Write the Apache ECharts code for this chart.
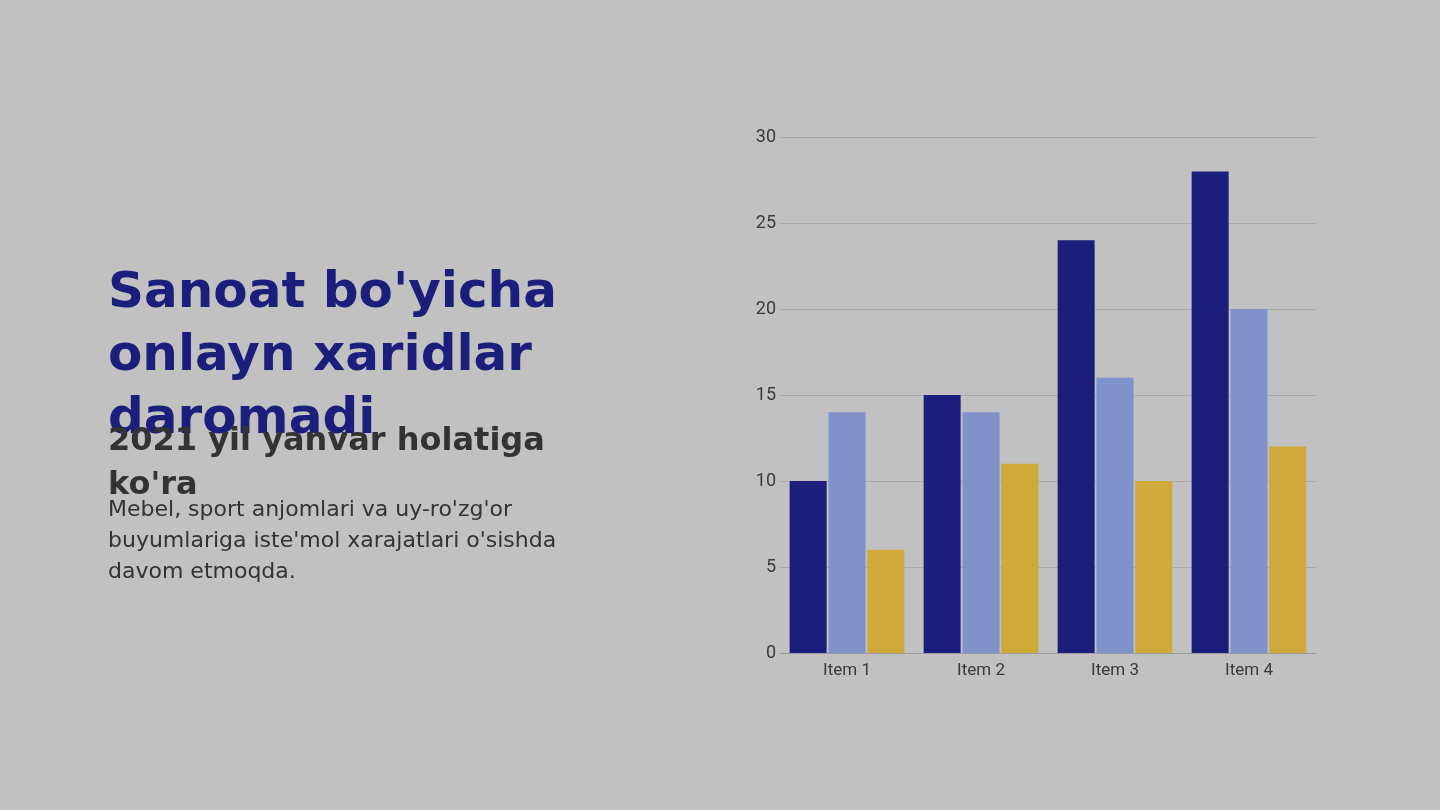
<!DOCTYPE html>
<html>
<head>
<meta charset="utf-8">
<script src="https://cdn.jsdelivr.net/npm/echarts@6/dist/echarts.min.js"></script>
<style>
html,body{margin:0;padding:0;background:#c1c1c1;}
#main{width:1440px;height:810px;}
</style>
</head>
<body>
<div id="main"></div>
<script>
const categories = ['Item 1', 'Item 2', 'Item 3', 'Item 4'];
const series1 = [10, 15, 24, 28];
const series2 = [14, 14, 16, 20];
const series3 = [6, 11, 10, 12];
const seriesNames = ['Series 1', 'Series 2', 'Series 3'];
const titleText = "Sanoat bo'yicha\nonlayn xaridlar\ndaromadi";
const subtitleText = "2021 yil yanvar holatiga\nko'ra";
const bodyText = "Mebel, sport anjomlari va uy-ro'zg'or\nbuyumlariga iste'mol xarajatlari o'sishda\ndavom etmoqda.";

const chart = echarts.init(document.getElementById('main'), null, {renderer: 'canvas'});
const colors = ['#1b1e7a', '#7f92c9', '#cfaa3a'];
function mk(name, data, color) {
  return {
    name: name, type: 'bar', data: data, barWidth: 37, barGap: '5%',
    itemStyle: {color: color}
  };
}
const labelFont = 'Roboto';
chart.setOption({
  backgroundColor: '#c1c1c1',
  animation: false,
  grid: {left: 780, right: 124, top: 137, bottom: 157, containLabel: false},
  xAxis: {
    type: 'category', data: categories,
    axisLine: {show: true, lineStyle: {color: '#9a9a9a', width: 1}},
    axisTick: {show: false},
    axisLabel: {color: '#3a3a3a', fontSize: 17, fontFamily: labelFont, margin: 9}
  },
  yAxis: {
    type: 'value', min: 0, max: 30, interval: 5,
    axisLine: {show: false}, axisTick: {show: false},
    splitLine: {lineStyle: {color: '#a9a9a9', width: 1}},
    axisLabel: {color: '#3a3a3a', fontSize: 18, fontFamily: labelFont, margin: 4}
  },
  series: [mk(seriesNames[0], series1, colors[0]), mk(seriesNames[1], series2, colors[1]), mk(seriesNames[2], series3, colors[2])],
  graphic: [
    {type: 'text', left: 108, top: 263, style: {text: titleText, fill: '#1b1e7a', fontFamily: 'DejaVu Sans', fontWeight: 'bold', fontSize: 50, lineHeight: 63}},
    {type: 'text', left: 108, top: 420, style: {text: subtitleText, fill: '#333333', fontFamily: 'DejaVu Sans', fontWeight: 'bold', fontSize: 32, lineHeight: 44}},
    {type: 'text', left: 108, top: 495, style: {text: bodyText, fill: '#333333', fontFamily: 'DejaVu Sans', fontWeight: 'normal', fontSize: 22, lineHeight: 31}}
  ]
});
</script>
</body>
</html>
